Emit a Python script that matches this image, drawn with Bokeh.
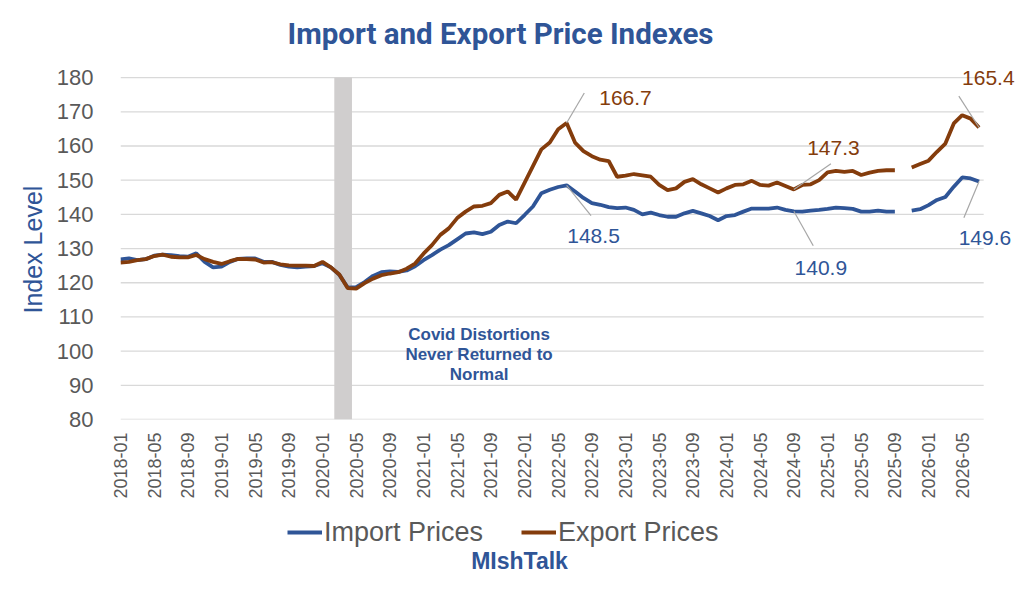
import numpy as np
import pandas as pd
from bokeh.plotting import figure
from bokeh.layouts import column
from bokeh.models import ColumnDataSource, FixedTicker, Label, Legend, LegendItem, Title
from bokeh.embed import file_html
from bokeh.resources import INLINE

# monthly index levels, 2018-01 .. 2026-07 (2025-10 not published)
months = [str(m) for m in pd.period_range("2018-01", "2026-07", freq="M")]

import_prices = [
    126.8, 127.1, 126.6, 126.9, 127.9, 128.2, 128.1, 127.8, 127.6, 128.6, 126.1, 124.5,
    124.7, 126.1, 127.0, 127.1, 127.1, 126.1, 126.1, 125.2, 124.7, 124.5, 124.7, 124.9,
    125.7, 124.5, 122.3, 118.6, 118.7, 120.2, 122.0, 123.1, 123.3, 123.2, 123.6, 124.8,
    126.6, 128.1, 129.7, 131.0, 132.7, 134.4, 134.7, 134.2, 134.9, 136.9, 137.9, 137.4,
    139.8, 142.3, 146.2, 147.2, 148.0, 148.5, 146.7, 144.8, 143.3, 142.8, 142.1, 141.8,
    142.0, 141.3, 140.0, 140.5, 139.8, 139.3, 139.3, 140.3, 141.0, 140.3, 139.5, 138.3,
    139.5, 139.8, 140.8, 141.7, 141.7, 141.7, 142.0, 141.3, 140.9, 140.8, 141.1, 141.3,
    141.6, 142.0, 141.8, 141.6, 140.8, 140.8, 141.1, 140.8, 140.8, np.nan, 141.1, 141.5,
    142.7, 144.2, 145.1, 148.1, 150.8, 150.5, 149.6,
]

export_prices = [
    125.9, 126.1, 126.6, 126.9, 127.8, 128.2, 127.6, 127.4, 127.4, 128.1, 126.9, 126.1,
    125.5, 126.3, 127.0, 126.9, 126.8, 125.9, 126.0, 125.4, 125.1, 125.0, 125.0, 124.9,
    126.1, 124.5, 122.4, 118.4, 118.3, 119.9, 121.2, 122.2, 122.7, 123.1, 124.1, 125.6,
    128.5, 131.0, 134.0, 135.9, 138.9, 140.8, 142.3, 142.5, 143.3, 145.7, 146.7, 144.3,
    149.2, 154.1, 159.0, 161.0, 164.9, 166.7, 161.0, 158.5, 157.0, 156.0, 155.6, 151.0,
    151.3, 151.8, 151.4, 151.0, 148.6, 147.1, 147.6, 149.5, 150.3, 148.8, 147.6, 146.4,
    147.6, 148.6, 148.8, 149.8, 148.6, 148.4, 149.3, 148.3, 147.3, 148.6, 148.8, 150.0,
    152.3, 152.7, 152.4, 152.7, 151.5, 152.2, 152.7, 152.9, 152.9, np.nan, 153.7, 154.7,
    155.7, 158.3, 160.7, 166.6, 169.0, 168.0, 165.4,
]

tick_labels = [
    "2018-01", "2018-05", "2018-09", "2019-01", "2019-05", "2019-09", "2020-01",
    "2020-05", "2020-09", "2021-01", "2021-05", "2021-09", "2022-01", "2022-05",
    "2022-09", "2023-01", "2023-05", "2023-09", "2024-01", "2024-05", "2024-09",
    "2025-01", "2025-05", "2025-09", "2026-01", "2026-05",
]
y_ticks = [80, 90, 100, 110, 120, 130, 140, 150, 160, 170, 180]

covid_months = ["2020-03", "2020-04"]
callout_months = ["2022-06", "2024-09", "2026-07"]

IMP = "#2F5597"
EXP = "#843C0C"
GREY = "#595959"

X_END = 102.55  # right edge of the gridded area, in months

src = ColumnDataSource(dict(x=list(range(len(months))), imp=import_prices, exp=export_prices))

p = figure(width=1016, height=505, output_backend="svg", toolbar_location=None, tools="",
           x_range=(0, X_END + 3.9), y_range=(80, 185),
           min_border_left=120, min_border_right=0, min_border_top=60, min_border_bottom=86)
p.outline_line_color = None
p.background_fill_color = "white"
p.xgrid.grid_line_color = None
p.ygrid.grid_line_color = None

# horizontal gridlines, limited to the data area
p.segment(x0=[0] * len(y_ticks), x1=[X_END] * len(y_ticks), y0=y_ticks, y1=y_ticks,
          line_color="#D9D9D9", line_width=1.3)

# covid shading
c0 = months.index(covid_months[0])
c1 = months.index(covid_months[1])
p.quad(left=c0 - 0.6, right=c1 + 0.5, bottom=y_ticks[0], top=y_ticks[-1],
       color="#D0CECE", line_color=None)

r_imp = p.line("x", "imp", source=src, color=IMP, line_width=3.8)
r_exp = p.line("x", "exp", source=src, color=EXP, line_width=3.8)

# axes
p.yaxis.ticker = FixedTicker(ticks=y_ticks)
p.yaxis.axis_line_color = None
p.yaxis.major_tick_line_color = None
p.yaxis.minor_tick_line_color = None
p.yaxis.major_tick_out = 0
p.yaxis.major_label_standoff = 27
p.yaxis.major_label_text_font = "Liberation Sans"
p.yaxis.major_label_text_font_size = "22px"
p.yaxis.major_label_text_color = GREY

# y axis title, centred on the 80-180 span rather than the whole frame
p.add_layout(Title(text="Index Level", text_color=IMP, text_font="Liberation Sans",
                   text_font_style="normal", text_font_size="25px",
                   align="left", offset=106, standoff=14), "left")

tick_pos = [months.index(t) for t in tick_labels]
p.xaxis.ticker = FixedTicker(ticks=tick_pos)
p.xaxis.major_label_overrides = {i: t for i, t in zip(tick_pos, tick_labels)}
p.xaxis.major_label_orientation = np.pi / 2
p.xaxis.axis_line_color = None
p.xaxis.major_tick_line_color = None
p.xaxis.minor_tick_line_color = None
p.xaxis.major_tick_out = 0
p.xaxis.major_label_standoff = 13
p.xaxis.major_label_text_font = "Liberation Sans"
p.xaxis.major_label_text_font_size = "18px"
p.xaxis.major_label_text_color = GREY

# callouts: (series, colour, month, label dx, label dy, leader dx, leader dy)
callouts = [
    (export_prices, EXP, callout_months[0], 7.0, 7.4, 2.1, 8.8),
    (import_prices, IMP, callout_months[0], 3.2, -14.8, 2.9, -8.9),
    (export_prices, EXP, callout_months[1], 4.7, 12.1, 4.4, 7.5),
    (import_prices, IMP, callout_months[1], 3.2, -16.5, 2.3, -10.1),
    (export_prices, EXP, callout_months[2], 1.1, 14.5, -2.4, 9.2),
    (import_prices, IMP, callout_months[2], 0.7, -16.5, -1.8, -10.6),
]
for series, col, m, ldx, ldy, sdx, sdy in callouts:
    i = months.index(m)
    v = series[i]
    p.segment(x0=i, y0=v, x1=i + sdx, y1=v + sdy, line_color="#A6A6A6", line_width=1.2)
    p.add_layout(Label(x=i + ldx, y=v + ldy, text=f"{v:.1f}", text_color=col,
                       text_font="Liberation Sans", text_font_size="21px",
                       text_align="center", text_baseline="middle"))

covid_text = ["Covid Distortions", "Never Returned to", "Normal"]
for k, line in enumerate(covid_text):
    p.add_layout(Label(x=42.6, y=104.8 - 5.85 * k, text=line, text_color=IMP,
                       text_font="Liberation Sans", text_font_style="bold",
                       text_font_size="17px", text_align="center", text_baseline="middle"))

p.title.text = "Import and Export Price Indexes"
p.title.text_color = IMP
p.title.text_font = "Roboto"
p.title.text_font_style = "bold"
p.title.text_font_size = "29.5px"
p.title.align = "left"
p.title.offset = 167
p.title.standoff = 20

# legend strip underneath; its frame lines up with the chart's, x in page pixels
p2 = figure(width=1016, height=88, output_backend="svg", toolbar_location=None, tools="",
            x_range=(120, 1016), y_range=(0, 88), min_border=0,
            min_border_left=120, min_border_right=0,
            x_axis_location=None, y_axis_location=None)
p2.outline_line_color = None
p2.xgrid.grid_line_color = None
p2.ygrid.grid_line_color = None
# the series again, outside the visible range, only to key the legend
k_imp = p2.line(x=list(range(len(months))), y=import_prices, color=IMP, line_width=3.8)
k_exp = p2.line(x=list(range(len(months))), y=export_prices, color=EXP, line_width=3.8)
legend = Legend(items=[LegendItem(label="Import Prices", renderers=[k_imp]),
                       LegendItem(label="Export Prices", renderers=[k_exp])],
                location=(167, 45), orientation="horizontal",
                border_line_color=None, background_fill_alpha=0,
                padding=0, margin=0, spacing=38, glyph_width=35, glyph_height=32,
                label_height=32, label_standoff=2,
                label_text_font="Liberation Sans", label_text_font_size="27px",
                label_text_color=GREY)
p2.add_layout(legend)
p2.add_layout(Label(x=519, y=33, text="MIshTalk", text_color=IMP,
                    text_font="Liberation Sans", text_font_style="bold",
                    text_font_size="23px", text_align="center", text_baseline="middle"))

open("out.html", "w").write(file_html(column(p, p2), INLINE))
